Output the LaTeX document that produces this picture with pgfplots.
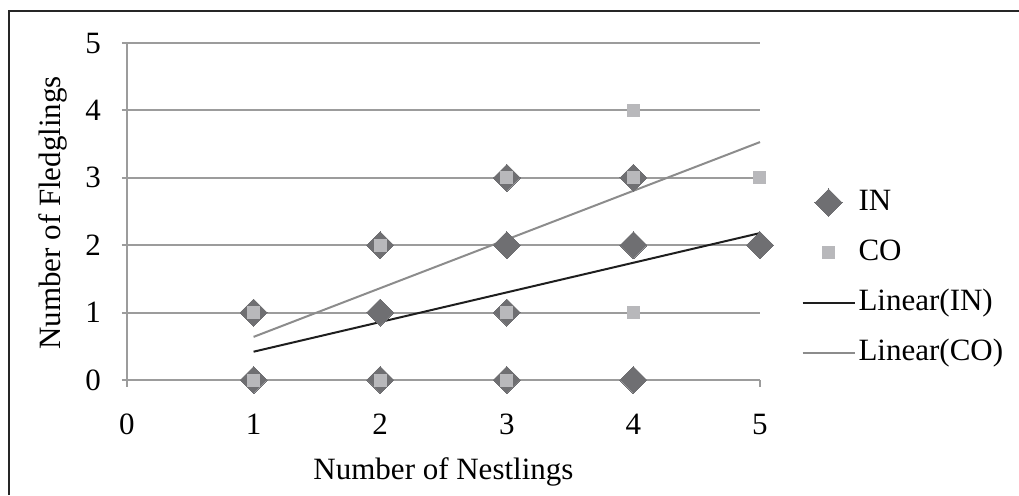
\documentclass[border=0pt]{standalone}
\usepackage{fontspec}
\setmainfont{Liberation Serif}
\usepackage{pgfplots}
\pgfplotsset{compat=1.18}
\definecolor{indark}{HTML}{6F6F72}
\definecolor{colight}{HTML}{B8B8BB}
\definecolor{gridgray}{HTML}{9C9C9C}
\definecolor{fitco}{HTML}{8C8C8C}
\definecolor{fitin}{HTML}{1E1E1E}
\begin{document}
\begin{tikzpicture}[font=\fontsize{15.5}{18}\selectfont]
\useasboundingbox (0,0) rectangle (509.5pt,247.5pt);
\draw[line width=1pt, black!85] (4.3pt,0pt) -- (4.3pt,242pt) -- (509.5pt,242pt);
\begin{axis}[
    at={(63.5pt,57.5pt)}, anchor=south west,
    scale only axis,
    width=316.5pt, height=168.5pt,
    xmin=0, xmax=5, ymin=0, ymax=5,
    xtick={0,1,2,3,4,5}, ytick={0,1,2,3,4,5},
    axis lines*=left,
    axis line style={gridgray, line width=1pt},
    ymajorgrids,
    grid style={gridgray, line width=1pt},
    tick align=outside,
    major tick length=2.5pt,
    x tick style={draw=none},
    y tick style={gridgray, line width=1pt},
    /pgf/number format/assume math mode=true,
    ticklabel style={font=\fontsize{15.5}{18}\selectfont},
    xticklabel style={anchor=north, yshift=-11pt},
    yticklabel style={anchor=east, xshift=-7pt},
    xlabel={Number of Nestlings},
    ylabel={Number of Fledglings},
    every axis x label/.style={at={(axis description cs:0.5,-0.272)}, anchor=center},
    every axis y label/.style={at={(axis description cs:-0.117,0.496)}, anchor=center, rotate=90},
    legend style={at={(axis description cs:1.065,0.568)}, anchor=north west,
        draw=none, fill=none, inner sep=0pt, row sep=11.5pt,
        font=\fontsize{15.5}{18}\selectfont,
        nodes={inner sep=0pt, text height=10.5pt, text depth=3pt, anchor=west}},
    legend cell align=left,
    legend image code/.code={\draw[mark repeat=2, mark phase=2, #1]
        plot coordinates {(0pt,0pt) (13pt,0pt) (26pt,0pt)};},
    clip=false,
]
\addplot[only marks, color=indark, mark=square*, mark size=4.8pt,
    mark options={rotate=45, fill=indark, draw=indark, line width=0pt}]
coordinates {
    (1,1) (1,0) (2,2) (2,1) (2,0) (3,3) (3,2) (3,1) (3,0)
    (4,3) (4,2) (4,0) (5,2)
};
\addlegendentry{\hspace{1.5pt}IN}
\addplot[only marks, color=colight, mark=square*, mark size=3pt,
    mark options={fill=colight, draw=colight, line width=0pt}]
coordinates {
    (1,1) (1,0) (2,2) (2,0) (3,3) (3,1) (3,0)
    (4,4) (4,3) (4,1) (5,3)
};
\addlegendentry{\hspace{1.5pt}CO}
\addplot[fitin, line width=1pt, no marks] coordinates {(1,0.42) (5,2.18)};
\addlegendentry{\hspace{1.5pt}Linear(IN)}
\addplot[fitco, line width=1pt, no marks] coordinates {(1,0.64) (5,3.53)};
\addlegendentry{\hspace{1.5pt}Linear(CO)}
\draw[gridgray, line width=1pt] (axis cs:0,0) -- ++(0pt,-3.5pt);
\draw[gridgray, line width=1pt] (axis cs:5,0) -- ++(0pt,-3.5pt);
\end{axis}
\end{tikzpicture}
\end{document}
